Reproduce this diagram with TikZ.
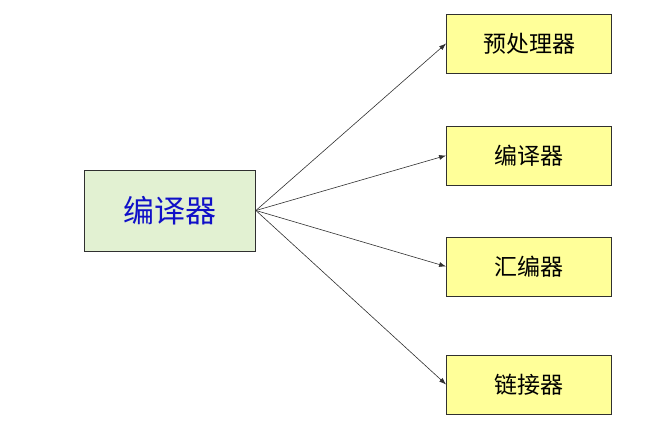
\documentclass[tikz,border=0pt]{standalone}
\usepackage{fontspec}
\newfontfamily\cjk{Noto Sans CJK SC}
\usetikzlibrary{arrows.meta,positioning}
\definecolor{boxline}{HTML}{303030}
\definecolor{mainFill}{HTML}{E2F1D2}
\definecolor{mainText}{HTML}{1010C8}
\definecolor{partFill}{HTML}{FFFF99}
\definecolor{arrowDark}{HTML}{303030}

\begin{document}
\begin{tikzpicture}[
  x=1pt, y=1pt,
  mainbox/.style={
    draw=boxline, line width=0.8pt, fill=mainFill,
    minimum width=171pt, minimum height=81pt, inner sep=0pt,
    font=\cjk\fontsize{31}{36}\selectfont, text=mainText
  },
  partbox/.style={
    draw=boxline, line width=0.8pt, fill=partFill,
    minimum width=165pt, minimum height=59pt, inner sep=0pt,
    font=\cjk\fontsize{23}{28}\selectfont, text=black
  },
  arr/.style={-{Latex[length=7pt,width=5pt]}, line width=0.6pt, draw=arrowDark}
]
\useasboundingbox (0,0) rectangle (670,439);

% Compiler on the left
\node[mainbox] (comp) at (170,228.5) {编译器};

% Its parts on the right
\node[partbox] (pre) at (529,395.5) {预处理器};
\node[partbox] (cc)  at (529,283.5) {编译器};
\node[partbox] (asm) at (529,172.5) {汇编器};
\node[partbox] (ld)  at (529,54.5)  {链接器};

% Connectors
\foreach \t in {pre,cc,asm,ld}
  \draw[arr] (comp.east) -- (\t.west);

\end{tikzpicture}
\end{document}
